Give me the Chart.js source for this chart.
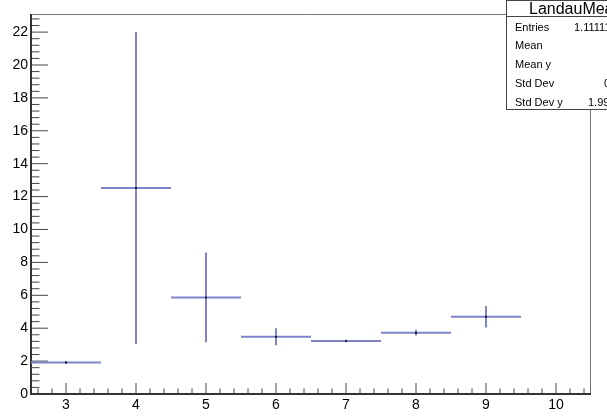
<!DOCTYPE html>
<html>
<head>
<meta charset="utf-8">
<script src="https://cdn.jsdelivr.net/npm/chart.js@4/dist/chart.umd.min.js"></script>
<style>
  html, body { margin: 0; padding: 0; background: #fff; overflow: hidden; }
  #wrap { position: relative; width: 607px; height: 418px; overflow: hidden; }
  #stats {
    position: absolute; left: 506px; top: 0; width: 200px; height: 110px;
    background: #fff; border: 1px solid #444; box-sizing: border-box;
    font-family: "Liberation Sans", Arial, sans-serif; color: #000;
  }
  #stats .title {
    position: absolute; left: 0; right: 0; top: 0; height: 15px;
    border-bottom: 1px solid #444; font-size: 16px; line-height: 16px;
    padding-left: 22px; white-space: nowrap;
  }
  #stats .row {
    position: absolute; left: 8px; font-size: 11px; line-height: 18.75px;
    white-space: nowrap;
  }
  #stats .val { position: absolute; top: 0; }
</style>
</head>
<body>
<div id="wrap">
  <canvas id="chart" width="607" height="418"></canvas>
  <div id="stats"></div>
</div>
<script>
  // profile bins (x = bin centre), mean y and error on the mean
  const binCenters = [3, 4, 5, 6, 7, 8, 9];
  const binMeans = [1.92, 12.52, 5.87, 3.48, 3.22, 3.73, 4.70];
  const binErrors = [0.09, 9.48, 2.73, 0.52, 0.08, 0.17, 0.65];
  const binHalfWidth = 0.5;

  const xTickValues = [3, 4, 5, 6, 7, 8, 9, 10];
  const yTickValues = [0, 2, 4, 6, 8, 10, 12, 14, 16, 18, 20, 22];

  const statsTitle = "LandauMean";
  const statsLabels = ["Entries", "Mean", "Mean y", "Std Dev", "Std Dev y"];
  const statsValues = ["1.111111e+07", "5.183", "4.172", "0.9806", "1.997"];

  const X_MIN = 2.5, X_MAX = 10.5, Y_MIN = 0, Y_MAX = 23.1;
  const lineColor = "#7f83cc";

  // stats box
  const stats = document.getElementById("stats");
  const valueLeft = [67, 105, 105, 97, 81];
  stats.innerHTML = `<div class="title">${statsTitle}</div>` +
    statsLabels.map((lab, i) =>
      `<div class="row" style="top:${16.5 + i * 18.75}px">${lab}` +
      `<span class="val" style="left:${valueLeft[i] - 8}px">${statsValues[i]}</span></div>`
    ).join("");

  // error bar segments, broken by gaps
  const barPoints = [];
  binCenters.forEach((c, i) => {
    const m = binMeans[i], e = binErrors[i];
    barPoints.push({ x: c - binHalfWidth, y: m }, { x: c + binHalfWidth, y: m }, { x: c, y: null });
    barPoints.push({ x: c, y: m - e }, { x: c, y: m + e }, { x: c, y: null });
  });
  const markerPoints = binCenters.map((c, i) => ({ x: c, y: binMeans[i] }));

  const range = (from, to, step) => {
    const out = [];
    for (let v = from; v <= to + 1e-9; v += step) out.push(Math.round(v * 1000) / 1000);
    return out;
  };

  const rootFrame = {
    id: "rootFrame",
    beforeDatasetsDraw(chart) {
      const { ctx, chartArea: a, scales } = chart;
      const xs = scales.x, ys = scales.y;
      ctx.save();
      ctx.strokeStyle = "#444";
      ctx.lineWidth = 1;
      ctx.beginPath();
      range(Y_MIN, Y_MAX, 0.4).forEach((v) => {
        const y = ys.getPixelForValue(v);
        const len = yTickValues.includes(v) ? 17 : 8.5;
        ctx.moveTo(a.left, y);
        ctx.lineTo(a.left + len, y);
      });
      range(2.6, X_MAX, 0.2).forEach((v) => {
        const x = xs.getPixelForValue(v);
        const len = xTickValues.includes(v) ? 11 : 5.5;
        ctx.moveTo(x, a.bottom);
        ctx.lineTo(x, a.bottom - len);
      });
      ctx.stroke();

      ctx.strokeStyle = "#777";
      ctx.beginPath();
      ctx.moveTo(a.left, a.top + 0.5);
      ctx.lineTo(a.right - 0.5, a.top + 0.5);
      ctx.lineTo(a.right - 0.5, a.bottom);
      ctx.stroke();

      ctx.strokeStyle = "#333";
      ctx.lineWidth = 2;
      ctx.beginPath();
      ctx.moveTo(a.left, a.top);
      ctx.lineTo(a.left, a.bottom);
      ctx.lineTo(a.right, a.bottom);
      ctx.stroke();
      ctx.restore();
    }
  };

  const tickFont = { family: "'Liberation Sans', Arial, sans-serif", size: 14 };

  new Chart(document.getElementById("chart"), {
    type: "scatter",
    data: {
      datasets: [
        {
          data: markerPoints,
          showLine: false,
          pointRadius: 1,
          pointBorderWidth: 0,
          pointBackgroundColor: "#000",
          order: 0
        },
        {
          data: barPoints,
          showLine: true,
          spanGaps: false,
          borderColor: lineColor,
          borderWidth: 2,
          pointRadius: 0,
          order: 1
        }
      ]
    },
    options: {
      responsive: false,
      animation: false,
      events: [],
      layout: { padding: { top: 14, right: 16, left: 0, bottom: 0 } },
      plugins: { legend: { display: false }, tooltip: { enabled: false } },
      scales: {
        x: {
          type: "linear",
          min: X_MIN,
          max: X_MAX,
          afterBuildTicks: (s) => { s.ticks = xTickValues.map((v) => ({ value: v })); },
          afterFit: (s) => { s.height = 24; },
          grid: { display: false, drawTicks: false },
          border: { display: false },
          ticks: { font: tickFont, color: "#000", padding: 3, maxRotation: 0 }
        },
        y: {
          type: "linear",
          min: Y_MIN,
          max: Y_MAX,
          afterBuildTicks: (s) => { s.ticks = yTickValues.map((v) => ({ value: v })); },
          afterFit: (s) => { s.width = 31; },
          grid: { display: false, drawTicks: false },
          border: { display: false },
          ticks: { font: tickFont, color: "#000", padding: 3 }
        }
      }
    },
    plugins: [rootFrame]
  });
</script>
</body>
</html>
